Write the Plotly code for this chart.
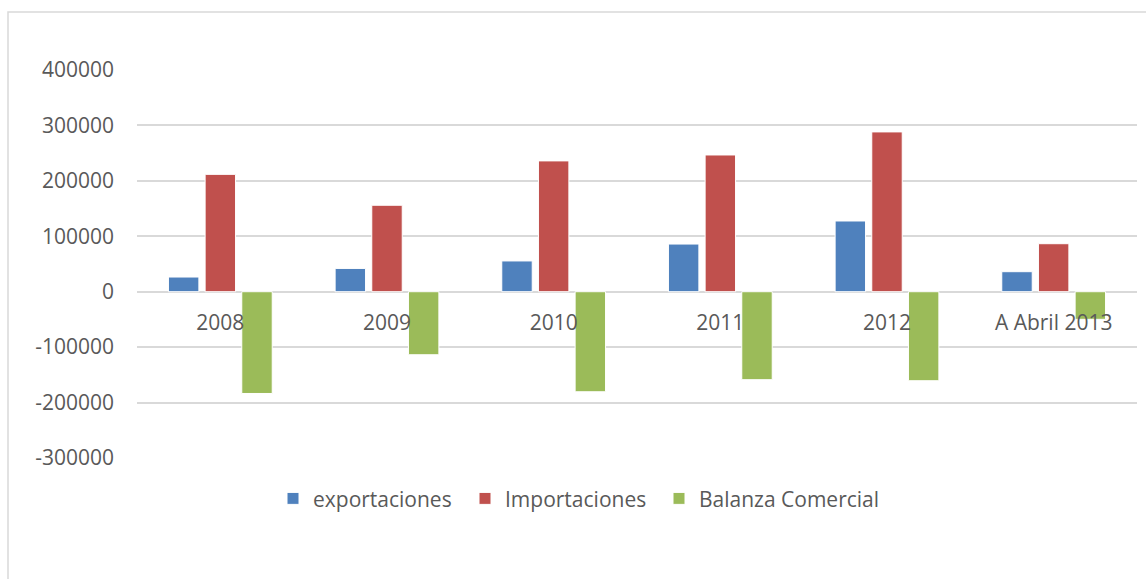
import plotly.graph_objects as go

# Trade figures by year
categories = ["2008", "2009", "2010", "2011", "2012", "A Abril 2013"]
exportaciones = [26500, 42000, 55500, 86000, 127600, 36100]
importaciones = [211700, 156000, 236000, 246700, 288300, 86600]
balanza = [-183600, -113700, -180500, -158700, -160600, -49800]

series_names = ["exportaciones", "Importaciones", "Balanza Comercial"]
series_values = [exportaciones, importaciones, balanza]
series_colors = ["#4f81bd", "#c0504d", "#9bbb59"]

y_ticks = [-300000, -200000, -100000, 0, 100000, 200000, 300000, 400000]

W, H = 1146, 579
ML, MR, MT, MB = 137, 9, 70, 121
Y_MIN, Y_MAX = -300000, 400000
PW = W - ML - MR
PH = H - MT - MB

TEXT = "#595959"
GRID = "#d9d9d9"
FONT = "Open Sans"

# each legend entry sits in its own legend box so the spacing can be set per item
legend_ids = ["legend", "legend2", "legend3"]
legend_left_px = [273, 465, 659]

fig = go.Figure()
for name, vals, color, lid in zip(series_names, series_values, series_colors, legend_ids):
    fig.add_bar(name=name, x=categories, y=vals, marker_color=color,
                marker_line=dict(color="white", width=1), legend=lid)

legend_layout = {}
for lid, px in zip(legend_ids, legend_left_px):
    legend_layout[lid] = dict(
        orientation="h", x=(px - ML) / PW, xanchor="left", y=-0.105, yanchor="middle",
        font=dict(family=FONT, size=21, color=TEXT), itemwidth=30,
        bgcolor="rgba(0,0,0,0)",
    )

fig.update_layout(
    width=W, height=H,
    margin=dict(l=ML, r=MR, t=MT, b=MB, pad=0),
    paper_bgcolor="white", plot_bgcolor="white",
    barmode="group", bargap=0.34, bargroupgap=0.17,
    font=dict(family=FONT, size=21, color=TEXT),
    showlegend=True,
    **legend_layout,
    xaxis=dict(
        anchor="free", position=(0 - Y_MIN) / (Y_MAX - Y_MIN),
        showgrid=False, showline=False, zeroline=False,
        ticks="", ticklabelstandoff=16,
        tickfont=dict(family=FONT, size=21, color=TEXT),
    ),
    yaxis=dict(
        range=[Y_MIN, Y_MAX], tickvals=y_ticks, ticktext=[str(v) for v in y_ticks],
        showgrid=True, gridcolor=GRID, gridwidth=1.5,
        zeroline=True, zerolinecolor=GRID, zerolinewidth=1.5,
        showline=False, ticks="", ticklabelstandoff=22,
        tickfont=dict(family=FONT, size=21, color=TEXT),
    ),
    shapes=[dict(
        type="rect", xref="paper", yref="paper",
        x0=(8 - ML) / PW, x1=(W + 20 - ML) / PW,
        y0=(H - MB - (H + 20)) / PH, y1=(H - MB - 12) / PH,
        line=dict(color=GRID, width=1.5), fillcolor="rgba(0,0,0,0)", layer="below",
    )],
)

fig.write_html("out.html")
